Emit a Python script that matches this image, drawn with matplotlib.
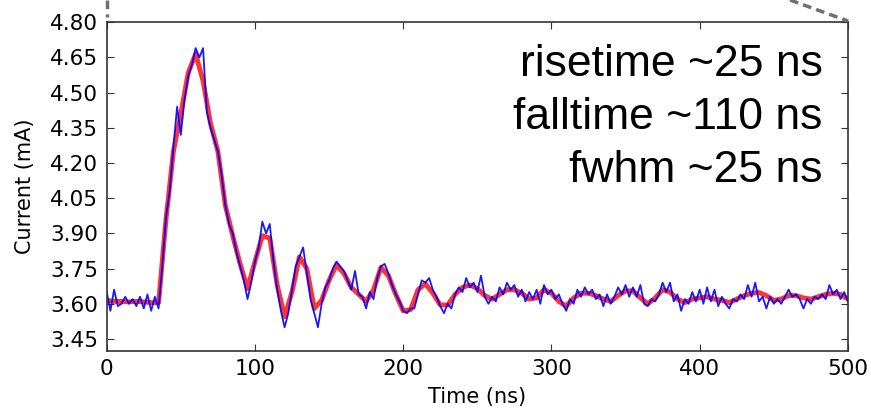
import numpy as np
import matplotlib.pyplot as plt
from matplotlib.lines import Line2D

# smoothed trace, every 5 ns
t_fit = np.arange(0, 501, 5)
i_fit = [3.615, 3.610, 3.610, 3.608, 3.610, 3.608, 3.605, 3.605, 3.96, 4.25,
         4.41, 4.585, 4.665, 4.55, 4.37, 4.25, 4.02, 3.89, 3.77, 3.665,
         3.78, 3.89, 3.88, 3.68, 3.545, 3.65, 3.80, 3.75, 3.58, 3.615,
         3.70, 3.765, 3.73, 3.67, 3.64, 3.61, 3.66, 3.755, 3.72, 3.64,
         3.57, 3.575, 3.66, 3.685, 3.645, 3.595, 3.595, 3.64, 3.67, 3.68,
         3.665, 3.635, 3.62, 3.64, 3.66, 3.66, 3.645, 3.62, 3.625, 3.66,
         3.645, 3.61, 3.59, 3.625, 3.645, 3.645, 3.635, 3.62, 3.61, 3.635,
         3.655, 3.655, 3.625, 3.60, 3.625, 3.66, 3.65, 3.62, 3.605, 3.62,
         3.625, 3.63, 3.62, 3.615, 3.605, 3.62, 3.635, 3.645, 3.648, 3.635,
         3.615, 3.62, 3.635, 3.635, 3.625, 3.62, 3.63, 3.64, 3.645, 3.64,
         3.62]

# measured trace, every 2.5 ns
t_raw = np.arange(0, 500.1, 2.5)
i_raw = [3.65, 3.57, 3.66, 3.59, 3.60, 3.63, 3.60, 3.62, 3.59, 3.63,
         3.58, 3.64, 3.57, 3.63, 3.58, 3.76, 3.97, 4.08, 4.27, 4.44,
         4.32, 4.47, 4.57, 4.62, 4.69, 4.65, 4.69, 4.42, 4.35, 4.30,
         4.25, 4.15, 4.02, 3.94, 3.90, 3.82, 3.76, 3.70, 3.62, 3.69,
         3.78, 3.84, 3.95, 3.90, 3.94, 3.78, 3.66, 3.57, 3.50, 3.56,
         3.66, 3.76, 3.80, 3.84, 3.73, 3.62, 3.56, 3.50, 3.60, 3.67,
         3.70, 3.75, 3.78, 3.76, 3.74, 3.70, 3.66, 3.74, 3.64, 3.63,
         3.58, 3.65, 3.62, 3.71, 3.76, 3.77, 3.73, 3.68, 3.64, 3.61,
         3.57, 3.56, 3.58, 3.58, 3.64, 3.70, 3.69, 3.71, 3.66, 3.63,
         3.59, 3.56, 3.60, 3.58, 3.64, 3.67, 3.65, 3.71, 3.67, 3.69,
         3.65, 3.72, 3.63, 3.60, 3.63, 3.61, 3.67, 3.64, 3.69, 3.66,
         3.68, 3.63, 3.66, 3.61, 3.65, 3.62, 3.66, 3.60, 3.68, 3.64,
         3.66, 3.62, 3.64, 3.60, 3.57, 3.62, 3.60, 3.66, 3.63, 3.67,
         3.64, 3.66, 3.62, 3.64, 3.59, 3.64, 3.60, 3.63, 3.67, 3.64,
         3.68, 3.63, 3.67, 3.63, 3.68, 3.60, 3.59, 3.62, 3.61, 3.64,
         3.69, 3.65, 3.69, 3.61, 3.64, 3.57, 3.62, 3.60, 3.65, 3.61,
         3.66, 3.60, 3.67, 3.61, 3.66, 3.59, 3.63, 3.60, 3.58, 3.62,
         3.61, 3.64, 3.62, 3.68, 3.63, 3.69, 3.61, 3.63, 3.58, 3.63,
         3.60, 3.62, 3.60, 3.63, 3.66, 3.63, 3.64, 3.62, 3.58, 3.62,
         3.60, 3.63, 3.62, 3.64, 3.62, 3.68, 3.64, 3.66, 3.62, 3.65,
         3.61]

yticks = [3.45, 3.60, 3.75, 3.90, 4.05, 4.20, 4.35, 4.50, 4.65, 4.80]
xticks = [0, 100, 200, 300, 400, 500]
notes = "risetime ~25 ns\nfalltime ~110 ns\nfwhm ~25 ns"

fig = plt.figure(figsize=(8.71, 4.12), dpi=100)
ax = fig.add_axes([0.1225, 0.1488, 0.851, 0.7971])

ax.plot(t_fit, i_fit, color='red', lw=3.5, alpha=0.8, solid_joinstyle='round')
ax.plot(t_raw, i_raw, color='blue', lw=1.3, alpha=0.9)

ax.set_xlim(0, 500)
ax.set_ylim(3.40, 4.80)
ax.set_xticks(xticks)
ax.set_yticks(yticks)
ax.set_yticklabels(["%.2f" % v for v in yticks])
ax.tick_params(direction='in', top=True, right=True, length=5, width=0.8,
               labelsize=15.5, pad=6, color='#333333')
for s in ax.spines.values():
    s.set_color('#333333')
    s.set_linewidth(1.2)

ax.set_xlabel("Time (ns)", fontsize=15, labelpad=6)
ax.set_ylabel("Current (mA)", fontsize=15, labelpad=11)

ax.text(0.966, 0.935, notes, transform=ax.transAxes, ha='right', va='top',
        fontsize=32, family='Liberation Sans', linespacing=1.38)

# dashed connector lines of the zoom inset
fig.add_artist(Line2D([106.5 / 871, 106.5 / 871], [1.0, 1 - 17 / 412],
                      transform=fig.transFigure, color='#707070', lw=2.5,
                      ls=(0, (2.5, 1.5))))
fig.add_artist(Line2D([790 / 871, 848 / 871], [1.0, 1 - 21 / 412],
                      transform=fig.transFigure, color='#707070', lw=2.5,
                      ls=(0, (2.5, 1.5))))

fig.savefig("out.png", dpi=100)
